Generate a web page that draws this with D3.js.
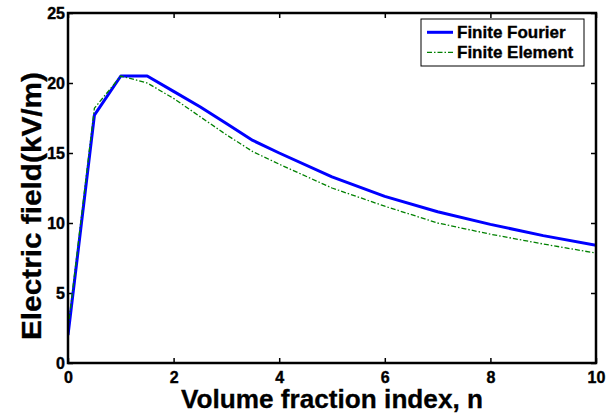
<!DOCTYPE html>
<html>
<head>
<meta charset="utf-8">
<script src="https://cdn.jsdelivr.net/npm/d3@7"></script>
<style>
  html, body { margin: 0; padding: 0; background: #fff; }
  svg { display: block; }
  text { font-family: "Liberation Sans", Arial, Helvetica, sans-serif; font-weight: bold; fill: #000; }
</style>
</head>
<body>
<svg id="chart" width="616" height="416"></svg>
<script>
// ---- data ----
const nValues = [0, 0.5, 1, 1.5, 2, 2.5, 3, 3.5, 4, 5, 6, 7, 8, 9, 10];
const fourierField = [2.0, 17.7, 20.5, 20.5, 19.4, 18.3, 17.1, 15.9, 15.0, 13.3, 11.9, 10.8, 9.9, 9.1, 8.4];
const elementField = [2.4, 18.2, 20.5, 20.0, 18.9, 17.6, 16.3, 15.1, 14.2, 12.5, 11.2, 10.0, 9.2, 8.5, 7.85];
const seriesNames = ["Finite Fourier", "Finite Element"];
const xTicks = [0, 2, 4, 6, 8, 10];
const yTicks = [0, 5, 10, 15, 20, 25];
const xLabel = "Volume fraction index, n";
const yLabel = "Electric field(kV/m)";

// ---- layout ----
const svg = d3.select("#chart");
const pLeft = 68, pRight = 596, pTop = 13, pBottom = 363;
const x = d3.scaleLinear().domain([0, 10]).range([pLeft, pRight]);
const y = d3.scaleLinear().domain([0, 25]).range([pBottom, pTop]);

// axes (ticks pointing inward)
const gx = svg.append("g").attr("transform", `translate(0,${pBottom})`)
  .call(d3.axisBottom(x).tickValues(xTicks).tickSizeInner(-5).tickSizeOuter(0).tickPadding(9));
const gxTop = svg.append("g").attr("transform", `translate(0,${pTop})`)
  .call(d3.axisTop(x).tickValues(xTicks).tickSizeInner(-5).tickSizeOuter(0).tickFormat(""));
const gy = svg.append("g").attr("transform", `translate(${pLeft},0)`)
  .call(d3.axisLeft(y).tickValues(yTicks).tickSizeInner(-5).tickSizeOuter(0).tickPadding(3));
const gyRight = svg.append("g").attr("transform", `translate(${pRight},0)`)
  .call(d3.axisRight(y).tickValues(yTicks).tickSizeInner(-5).tickSizeOuter(0).tickFormat(""));

[gx, gxTop, gy, gyRight].forEach(g => {
  g.select(".domain").remove();
  g.selectAll(".tick line").attr("stroke", "#000").attr("stroke-width", 1.5);
  g.selectAll(".tick text").style("font-size", "16px").style("font-weight", "bold")
    .style("font-family", '"Liberation Sans", Arial, sans-serif').attr("fill", "#000")
    .attr("stroke", "#000").attr("stroke-width", 0.4);
});

// lines
const line = d3.line().x(d => x(d[0])).y(d => y(d[1]));
svg.append("clipPath").attr("id", "clip").append("rect")
  .attr("x", pLeft).attr("y", pTop).attr("width", pRight - pLeft).attr("height", pBottom - pTop);

svg.append("path")
  .datum(nValues.map((n, i) => [n, fourierField[i]]))
  .attr("d", line).attr("fill", "none").attr("stroke", "#0000ff").attr("stroke-width", 3)
  .attr("stroke-linejoin", "round").attr("clip-path", "url(#clip)");

svg.append("path")
  .datum(nValues.map((n, i) => [n, elementField[i]]))
  .attr("d", line).attr("fill", "none").attr("stroke", "#008000").attr("stroke-width", 1.3)
  .attr("stroke-dasharray", "5,2,1.5,2").attr("clip-path", "url(#clip)");

// axes box
svg.append("rect").attr("x", pLeft).attr("y", pTop).attr("width", pRight - pLeft).attr("height", pBottom - pTop)
  .attr("fill", "none").attr("stroke", "#000").attr("stroke-width", 2.5);

// axis titles
svg.append("text").attr("x", (pLeft + pRight) / 2).attr("y", 408).attr("text-anchor", "middle")
  .attr("textLength", 302).attr("lengthAdjust", "spacingAndGlyphs")
  .attr("stroke", "#000").attr("stroke-width", 0.3)
  .style("font-size", "25px").text(xLabel);
svg.append("text").attr("transform", "translate(41,206) rotate(-90)")
  .attr("text-anchor", "middle").attr("textLength", 268).attr("lengthAdjust", "spacingAndGlyphs")
  .attr("stroke", "#000").attr("stroke-width", 0.3)
  .style("font-size", "27px").text(yLabel);

// legend
const lg = svg.append("g");
lg.append("rect").attr("x", 421).attr("y", 19).attr("width", 163).attr("height", 47)
  .attr("fill", "#fff").attr("stroke", "#000").attr("stroke-width", 1);
const legendStyles = [
  { color: "#0000ff", width: 3, dash: null },
  { color: "#008000", width: 1.3, dash: "5,2,1.5,2" }
];
seriesNames.forEach((name, i) => {
  const cy = 32.3 + i * 20;
  lg.append("line").attr("x1", 427).attr("x2", 453).attr("y1", cy).attr("y2", cy)
    .attr("stroke", legendStyles[i].color).attr("stroke-width", legendStyles[i].width)
    .attr("stroke-dasharray", legendStyles[i].dash);
  lg.append("text").attr("x", 457).attr("y", cy).attr("dy", "0.36em")
    .attr("stroke", "#000").attr("stroke-width", 0.35)
    .style("font-size", "17px").text(name);
});
</script>
</body>
</html>
